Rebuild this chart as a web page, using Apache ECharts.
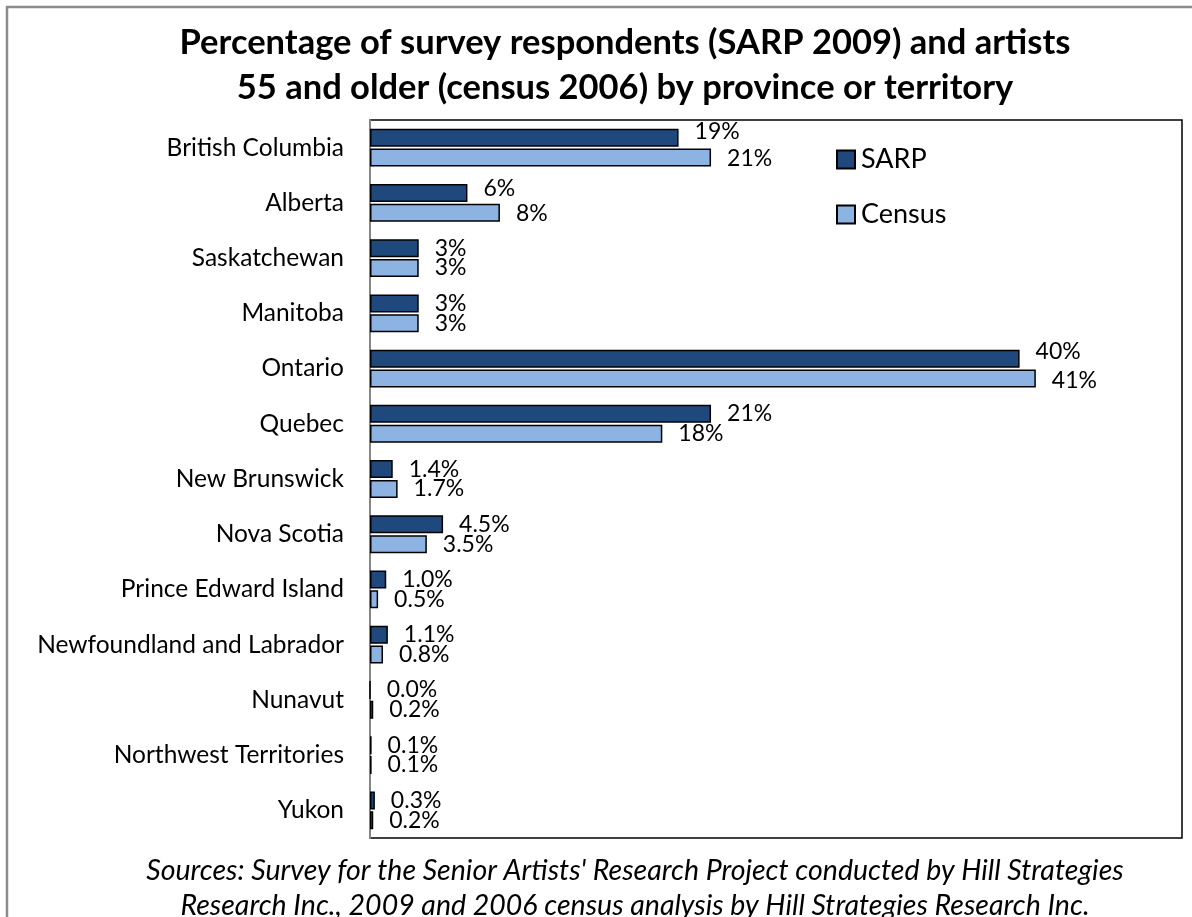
<!DOCTYPE html>
<html>
<head>
<meta charset="utf-8">
<script src="https://cdn.jsdelivr.net/npm/echarts@6/dist/echarts.min.js"></script>
<style>
  html, body { margin: 0; padding: 0; background: #fff; }
  #chart { width: 1192px; height: 917px; }
</style>
</head>
<body>
<div id="chart"></div>
<script>
// Provinces and territories, top to bottom
const categories = [
  'British Columbia', 'Alberta', 'Saskatchewan', 'Manitoba', 'Ontario', 'Quebec',
  'New Brunswick', 'Nova Scotia', 'Prince Edward Island', 'Newfoundland and Labrador',
  'Nunavut', 'Northwest Territories', 'Yukon'
];
// Share of survey respondents (SARP 2009), percent
const sarpValues = [19, 6, 3, 3, 40, 21, 1.4, 4.5, 1.0, 1.1, 0.0, 0.1, 0.3];
// Share of artists 55 and older (census 2006), percent
const censusValues = [21, 8, 3, 3, 41, 18, 1.7, 3.5, 0.5, 0.8, 0.2, 0.1, 0.2];
// Decimal places shown in each row's labels
const labelDecimals = [0, 0, 0, 0, 0, 0, 1, 1, 1, 1, 1, 1, 1];

const seriesNames = ['SARP', 'Census'];
const titleLines = [
  'Percentage of survey respondents (SARP 2009) and artists',
  '55 and older (census 2006) by province or territory'
];
const sourceLines = [
  "Sources: Survey for the Senior Artists' Research Project conducted by Hill Strategies",
  'Research Inc., 2009 and 2006 census analysis by Hill Strategies Research Inc.'
];

const FONT = 'Lato, "Open Sans", sans-serif';

// A few labels are nudged apart vertically (row index -> pixel shift)
const sarpLabelShift = { 0: -6, 1: -4, 4: -7 };
const censusLabelShift = { 0: 1, 1: 1, 4: 2 };

function pctLabel(p) {
  return p.value.toFixed(labelDecimals[p.dataIndex]) + '%';
}

function withLabelShift(values, shifts) {
  return values.map((v, i) => (i in shifts)
    ? { value: v, label: { offset: [0, shifts[i]] } }
    : v);
}

const chart = echarts.init(document.getElementById('chart'), null, { renderer: 'canvas' });

chart.setOption({
  animation: false,
  backgroundColor: '#ffffff',
  textStyle: { fontFamily: FONT },
  title: [
    {
      text: titleLines.join('\n'),
      left: 620,
      top: 15,
      textAlign: 'center',
      textStyle: { fontFamily: FONT, fontSize: 34.5, fontWeight: 'bold', color: '#000', lineHeight: 45 }
    },
    {
      text: sourceLines.join('\n'),
      left: 630,
      top: 848,
      textAlign: 'center',
      textStyle: { fontFamily: FONT, fontSize: 28.5, fontStyle: 'italic', fontWeight: 'normal', color: '#000', lineHeight: 35 }
    }
  ],
  graphic: [
    {
      type: 'rect',
      shape: { x: 7, y: 7, width: 1250, height: 960 },
      style: { fill: 'none', stroke: '#8c8c8c', lineWidth: 2.5 },
      silent: true
    }
  ],
  legend: {
    orient: 'vertical',
    left: 831,
    top: 141,
    itemWidth: 18,
    itemHeight: 18,
    itemGap: 28,
    icon: 'rect',
    data: seriesNames,
    textStyle: { fontFamily: FONT, fontSize: 27, color: '#000', padding: [0, 0, 0, 1] }
  },
  grid: {
    left: 370,
    top: 120,
    width: 812,
    height: 718,
    show: true,
    borderColor: '#000',
    borderWidth: 1.5,
    backgroundColor: 'transparent'
  },
  xAxis: {
    type: 'value',
    min: 0,
    max: 50,
    show: false,
    splitLine: { show: false }
  },
  yAxis: {
    type: 'category',
    data: categories,
    inverse: true,
    axisLine: { show: true, lineStyle: { color: '#868686', width: 2 } },
    axisTick: { show: false },
    axisLabel: { fontFamily: FONT, fontSize: 24.5, color: '#000', margin: 26 }
  },
  series: [
    {
      name: seriesNames[0],
      type: 'bar',
      data: withLabelShift(sarpValues, sarpLabelShift),
      barWidth: 18,
      barGap: '10%',
      itemStyle: { color: '#1f497d', borderColor: '#000', borderWidth: 1.5 },
      label: {
        show: true,
        position: 'right',
        distance: 16,
        formatter: pctLabel,
        fontFamily: FONT,
        fontSize: 23,
        color: '#000'
      }
    },
    {
      name: seriesNames[1],
      type: 'bar',
      data: withLabelShift(censusValues, censusLabelShift),
      barWidth: 18,
      itemStyle: { color: '#8db3e2', borderColor: '#000', borderWidth: 1.5 },
      label: {
        show: true,
        position: 'right',
        distance: 16,
        formatter: pctLabel,
        fontFamily: FONT,
        fontSize: 23,
        color: '#000'
      }
    }
  ]
});
</script>
</body>
</html>
